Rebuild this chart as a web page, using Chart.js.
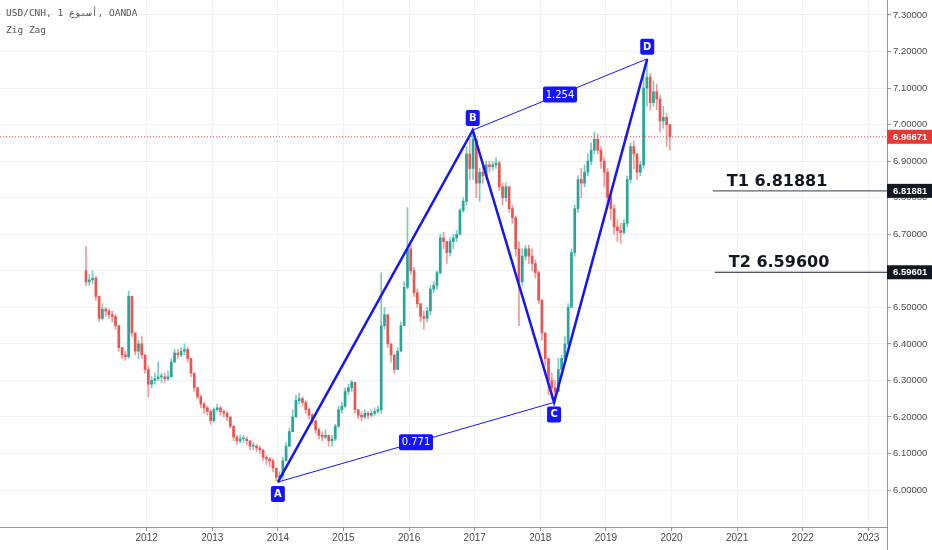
<!DOCTYPE html>
<html>
<head>
<meta charset="utf-8">
<title>USD/CNH Zig Zag</title>
<script src="https://cdn.jsdelivr.net/npm/chart.js@4.4.1/dist/chart.umd.min.js"></script>
<style>
html, body { margin: 0; padding: 0; background: #fff; }
canvas { display: block; }
</style>
</head>
<body>
<canvas id="chart" width="932" height="550"></canvas>
<script>
// tick labels
const yearTicks = [2012, 2013, 2014, 2015, 2016, 2017, 2018, 2019, 2020, 2021, 2022, 2023];
const priceTicks = [6.0, 6.1, 6.2, 6.3, 6.4, 6.5, 6.6, 6.7, 6.8, 6.9, 7.0, 7.1, 7.2, 7.3];

// candles (about every 2.6 weeks)
const candleStart = 2011.075;
const candleStep = 0.05;
const firstOpen = 6.60;
const closes = [
    6.57, 6.575, 6.58, 6.53, 6.47, 6.495, 6.49, 6.48, 6.475, 6.45,
    6.39, 6.37, 6.365, 6.53, 6.43, 6.38, 6.40, 6.37, 6.33, 6.29,
    6.30, 6.305, 6.31, 6.31, 6.305, 6.31, 6.35, 6.375, 6.37, 6.38,
    6.385, 6.36, 6.32, 6.28, 6.255, 6.235, 6.225, 6.215, 6.19, 6.22,
    6.225, 6.215, 6.21, 6.20, 6.175, 6.145, 6.135, 6.14, 6.14, 6.135,
    6.12, 6.12, 6.115, 6.11, 6.09, 6.085, 6.08, 6.06, 6.035, 6.04,
    6.08, 6.12, 6.16, 6.20, 6.245, 6.25, 6.24, 6.22, 6.205, 6.19,
    6.165, 6.15, 6.145, 6.15, 6.135, 6.14, 6.175, 6.22, 6.23, 6.27,
    6.28, 6.295, 6.22, 6.205, 6.20, 6.21, 6.205, 6.21, 6.215, 6.22,
    6.45, 6.48, 6.40, 6.37, 6.33, 6.38, 6.45, 6.555, 6.66, 6.60,
    6.54, 6.51, 6.475, 6.47, 6.49, 6.55, 6.56, 6.595, 6.69, 6.68,
    6.65, 6.68, 6.69, 6.70, 6.765, 6.79, 6.92, 6.88, 6.96, 6.84,
    6.87, 6.86, 6.89, 6.885, 6.89, 6.895, 6.83, 6.80, 6.83, 6.77,
    6.745, 6.66, 6.57, 6.64, 6.66, 6.64, 6.62, 6.595, 6.52, 6.43,
    6.36, 6.30, 6.28, 6.27, 6.33, 6.36, 6.40, 6.50, 6.65, 6.77,
    6.85, 6.84, 6.87, 6.90, 6.93, 6.96, 6.93, 6.90, 6.87, 6.80,
    6.77, 6.72, 6.71, 6.705, 6.73, 6.85, 6.94, 6.92, 6.87, 6.89,
    7.10, 7.13, 7.06, 7.09, 7.07, 7.01, 7.02, 7.00, 6.967
];
const highs = [
    6.667, 6.59, 6.60, 6.585, 6.53, 6.51, 6.50, 6.495, 6.49, 6.48,
    6.45, 6.39, 6.38, 6.545, 6.53, 6.42, 6.41, 6.42, 6.37, 6.34,
    6.31, 6.32, 6.35, 6.32, 6.32, 6.325, 6.36, 6.385, 6.385, 6.39,
    6.40, 6.39, 6.36, 6.32, 6.28, 6.26, 6.24, 6.23, 6.22, 6.225,
    6.235, 6.23, 6.22, 6.215, 6.20, 6.175, 6.15, 6.15, 6.15, 6.145,
    6.135, 6.13, 6.125, 6.12, 6.11, 6.095, 6.09, 6.085, 6.06, 6.05,
    6.09, 6.13, 6.17, 6.22, 6.26, 6.265, 6.255, 6.245, 6.225, 6.21,
    6.19, 6.17, 6.16, 6.165, 6.15, 6.15, 6.18, 6.23, 6.24, 6.28,
    6.29, 6.30, 6.295, 6.22, 6.215, 6.22, 6.215, 6.22, 6.225, 6.23,
    6.595, 6.50, 6.48, 6.40, 6.37, 6.39, 6.46, 6.57, 6.773, 6.67,
    6.61, 6.55, 6.51, 6.49, 6.50, 6.56, 6.57, 6.60, 6.70, 6.705,
    6.68, 6.69, 6.70, 6.71, 6.77, 6.80, 6.94, 6.96, 6.985, 6.96,
    6.88, 6.885, 6.90, 6.90, 6.90, 6.91, 6.90, 6.84, 6.84, 6.83,
    6.78, 6.75, 6.68, 6.66, 6.67, 6.67, 6.66, 6.63, 6.60, 6.52,
    6.43, 6.36, 6.32, 6.30, 6.36, 6.37, 6.42, 6.51, 6.66, 6.78,
    6.86, 6.88, 6.89, 6.92, 6.95, 6.98, 6.975, 6.94, 6.91, 6.88,
    6.81, 6.78, 6.74, 6.73, 6.74, 6.86, 6.95, 6.955, 6.92, 6.90,
    7.14, 7.177, 7.14, 7.12, 7.11, 7.08, 7.05, 7.03, 7.00
];
const lows = [
    6.56, 6.56, 6.565, 6.52, 6.46, 6.465, 6.475, 6.47, 6.46, 6.44,
    6.38, 6.36, 6.355, 6.36, 6.42, 6.37, 6.36, 6.36, 6.32, 6.255,
    6.28, 6.29, 6.30, 6.295, 6.295, 6.30, 6.31, 6.35, 6.36, 6.365,
    6.37, 6.35, 6.31, 6.27, 6.25, 6.225, 6.21, 6.205, 6.18, 6.185,
    6.215, 6.205, 6.20, 6.19, 6.17, 6.135, 6.125, 6.13, 6.13, 6.125,
    6.11, 6.11, 6.105, 6.10, 6.08, 6.07, 6.065, 6.05, 6.025, 6.02,
    6.03, 6.08, 6.12, 6.16, 6.20, 6.235, 6.23, 6.21, 6.195, 6.18,
    6.155, 6.14, 6.135, 6.14, 6.12, 6.12, 6.135, 6.17, 6.21, 6.225,
    6.26, 6.27, 6.21, 6.195, 6.19, 6.195, 6.195, 6.20, 6.205, 6.21,
    6.21, 6.44, 6.39, 6.35, 6.32, 6.33, 6.38, 6.45, 6.55, 6.59,
    6.53, 6.50, 6.46, 6.44, 6.46, 6.48, 6.54, 6.55, 6.59, 6.66,
    6.62, 6.64, 6.66, 6.68, 6.70, 6.76, 6.78, 6.85, 6.85, 6.80,
    6.79, 6.84, 6.85, 6.87, 6.875, 6.88, 6.82, 6.78, 6.79, 6.76,
    6.73, 6.64, 6.45, 6.56, 6.63, 6.62, 6.60, 6.58, 6.51, 6.41,
    6.34, 6.26, 6.25, 6.24, 6.28, 6.32, 6.37, 6.39, 6.50, 6.64,
    6.76, 6.80, 6.83, 6.86, 6.89, 6.92, 6.92, 6.88, 6.83, 6.78,
    6.74, 6.70, 6.68, 6.675, 6.70, 6.72, 6.84, 6.88, 6.85, 6.86,
    6.88, 7.05, 7.04, 7.05, 7.04, 6.98, 6.99, 6.94, 6.93
];

// zig zag pivots
const pivotNames = ['A', 'B', 'C', 'D'];
const pivotDates = [2014.0, 2016.97, 2018.21, 2019.63];
const pivotPrices = [6.022, 6.985, 6.240, 7.180];
const ratioLabels = ['0.771', '1.254'];   // on A-C and B-D

// price lines
const lastPrice = 6.96671;
const targetNames = ['T1 6.81881', 'T2 6.59600'];
const targetPrices = [6.81881, 6.59600];
const targetAxisText = ['6.81881', '6.59601'];
const targetStart = [2020.63, 2020.66];

const xMin = 2009.764, xMax = 2023.285;
const yMin = 5.899, yMax = 7.341;

const UP = '#26a69a', DOWN = '#ef5350';
const BLUE = '#1414ff';

// build candles
let wickData = [], bodyData = [], wickColors = [], bodyColors = [];
let open = firstOpen;
closes.forEach((close, i) => {
    let x = candleStart + i * candleStep;
    let up = close >= open;
    wickData.push({x: x, y: [Math.min(lows[i], open, close), Math.max(highs[i], open, close)]});
    bodyData.push({x: x, y: [open, close]});
    wickColors.push(up ? 'rgba(38,166,154,0.6)' : 'rgba(239,83,80,0.6)');
    bodyColors.push(up ? UP : DOWN);
    open = close;
});

const pivots = pivotDates.map((d, i) => ({x: d, y: pivotPrices[i]}));

function flatLine(from, price) {
    return [{x: from, y: price}, {x: xMax, y: price}];
}

function box(ctx, x, y, w, h, r) {
    ctx.beginPath();
    if (ctx.roundRect) ctx.roundRect(x, y, w, h, r);
    else ctx.rect(x, y, w, h);
    ctx.fill();
}

const overlay = {
    id: 'overlay',
    afterDraw(chart) {
        const ctx = chart.ctx;
        const xs = chart.scales.x, ys = chart.scales.y;
        const area = chart.chartArea;
        ctx.save();

        // header
        ctx.fillStyle = '#555';
        ctx.font = '9.5px "DejaVu Sans Mono"';
        ctx.textAlign = 'left';
        ctx.textBaseline = 'alphabetic';
        ctx.fillText('USD/CNH, 1 أسبوع, OANDA', 6, 16);
        ctx.fillText('Zig Zag', 6, 33);

        // pivot labels
        ctx.font = 'bold 10px "DejaVu Sans"';
        ctx.textAlign = 'center';
        ctx.textBaseline = 'middle';
        pivots.forEach((p, i) => {
            let px = xs.getPixelForValue(p.x);
            let py = ys.getPixelForValue(p.y);
            let top = (i % 2 === 0) ? py + 4 : py - 20;
            ctx.fillStyle = BLUE;
            box(ctx, px - 7, top, 14, 16, 2);
            ctx.fillStyle = '#fff';
            ctx.fillText(pivotNames[i], px, top + 8.5);
        });

        // ratio labels
        ctx.font = '10px "DejaVu Sans"';
        [[0, 2], [1, 3]].forEach((pair, i) => {
            let a = pivots[pair[0]], b = pivots[pair[1]];
            let px = (xs.getPixelForValue(a.x) + xs.getPixelForValue(b.x)) / 2;
            let py = (ys.getPixelForValue(a.y) + ys.getPixelForValue(b.y)) / 2;
            ctx.fillStyle = BLUE;
            box(ctx, px - 17, py - 8, 34, 16, 2);
            ctx.fillStyle = '#fff';
            ctx.fillText(ratioLabels[i], px, py + 0.5);
        });

        // target texts
        ctx.font = 'bold 16px "DejaVu Sans"';
        ctx.textAlign = 'left';
        ctx.textBaseline = 'alphabetic';
        ctx.fillStyle = '#131722';
        targetNames.forEach((t, i) => {
            let px = xs.getPixelForValue(targetStart[i]) + 14;
            let py = ys.getPixelForValue(targetPrices[i]);
            ctx.fillText(t, px, py - 5);
        });

        // axis price boxes
        ctx.font = 'bold 9.5px "Liberation Sans"';
        ctx.textBaseline = 'middle';
        const tags = [[lastPrice, lastPrice.toFixed(5), '#e53935']];
        targetPrices.forEach((p, i) => tags.push([p, targetAxisText[i], '#131722']));
        tags.forEach(t => {
            let py = ys.getPixelForValue(t[0]);
            ctx.fillStyle = t[2];
            ctx.fillRect(area.right, py - 7, chart.width - area.right, 14);
            ctx.fillStyle = '#fff';
            ctx.fillText(t[1], area.right + 6, py + 0.5);
        });

        // axis border continues down
        ctx.strokeStyle = '#9598a1';
        ctx.lineWidth = 1;
        ctx.beginPath();
        ctx.moveTo(area.right + 0.5, area.bottom);
        ctx.lineTo(area.right + 0.5, chart.height);
        ctx.stroke();
        ctx.restore();
    }
};

const ctx = document.getElementById('chart').getContext('2d');
const chart = new Chart(ctx, {
    type: 'bar',
    data: {
        datasets: [
            {
                type: 'line',
                label: 'zigzag',
                data: pivots,
                borderColor: BLUE,
                borderWidth: 2.5,
                pointRadius: 0,
                fill: false,
                order: 0
            },
            {
                type: 'line',
                label: 'A-C',
                data: [pivots[0], pivots[2]],
                borderColor: BLUE,
                borderWidth: 1,
                pointRadius: 0,
                order: 0
            },
            {
                type: 'line',
                label: 'B-D',
                data: [pivots[1], pivots[3]],
                borderColor: BLUE,
                borderWidth: 1,
                pointRadius: 0,
                order: 0
            },
            {
                type: 'line',
                label: 'last',
                data: flatLine(xMin, lastPrice),
                borderColor: '#e53935',
                borderWidth: 1,
                borderDash: [1, 2],
                pointRadius: 0,
                order: 1
            },
            {
                type: 'line',
                label: 'T1',
                data: flatLine(targetStart[0], targetPrices[0]),
                borderColor: '#5d606b',
                borderWidth: 1.2,
                pointRadius: 0,
                order: 1
            },
            {
                type: 'line',
                label: 'T2',
                data: flatLine(targetStart[1], targetPrices[1]),
                borderColor: '#1c2030',
                borderWidth: 1.2,
                pointRadius: 0,
                order: 1
            },
            {
                label: 'bodies',
                data: bodyData,
                backgroundColor: bodyColors,
                barThickness: 2,
                minBarLength: 1,
                grouped: false,
                order: 2
            },
            {
                label: 'wicks',
                data: wickData,
                backgroundColor: wickColors,
                barThickness: 1,
                grouped: false,
                order: 3
            }
        ]
    },
    options: {
        responsive: false,
        animation: false,
        layout: { padding: 0 },
        plugins: {
            legend: { display: false },
            tooltip: { enabled: false }
        },
        scales: {
            x: {
                type: 'linear',
                min: xMin,
                max: xMax,
                offset: false,
                afterBuildTicks: s => { s.ticks = yearTicks.map(v => ({value: v})); },
                afterFit: s => { s.height = 23; s.paddingLeft = 0; s.paddingRight = 0; },
                grid: { offset: false, color: '#eef1f6', tickColor: '#9598a1', tickLength: 4 },
                border: { color: '#9598a1' },
                ticks: {
                    color: '#4a4a4a',
                    font: { family: 'Liberation Sans', size: 10 },
                    padding: 1,
                    maxRotation: 0,
                    autoSkip: false,
                    callback: v => String(v)
                }
            },
            y: {
                position: 'right',
                min: yMin,
                max: yMax,
                afterBuildTicks: s => { s.ticks = priceTicks.map(v => ({value: v})); },
                afterFit: s => { s.width = 45; s.paddingTop = 0; s.paddingBottom = 0; },
                grid: { color: '#eef1f6', tickColor: '#9598a1', tickLength: 4 },
                border: { color: '#9598a1' },
                ticks: {
                    color: '#4a4a4a',
                    font: { family: 'Liberation Sans', size: 9.5 },
                    padding: 2,
                    callback: v => v.toFixed(5)
                }
            }
        }
    },
    plugins: [overlay]
});
</script>
</body>
</html>
